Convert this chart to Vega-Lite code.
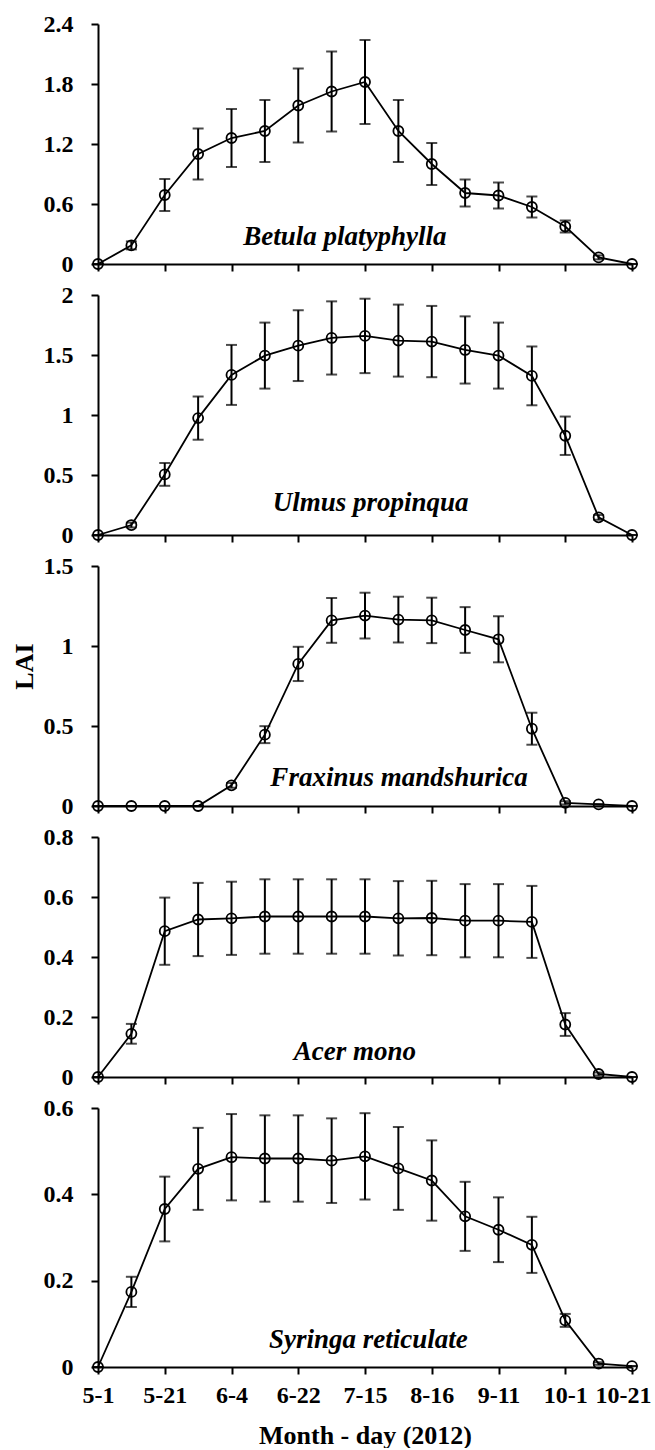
{
  "$schema": "https://vega.github.io/schema/vega-lite/v6.json",
  "background": "white",
  "padding": {"left": 11, "top": 12, "right": 0, "bottom": 0},
  "bounds": "flush",
  "spacing": 31,
  "config": {
    "view": {"stroke": null},
    "font": "Liberation Serif",
    "axis": {
      "grid": false,
      "domainColor": "black",
      "domainWidth": 2,
      "tickColor": "black",
      "tickWidth": 2,
      "tickSize": 7,
      "labelColor": "black",
      "labelFont": "Liberation Serif",
      "labelFontWeight": "bold",
      "labelFontSize": 24,
      "labelFlush": false,
      "labelOverlap": false,
      "titleColor": "black",
      "titleFont": "Liberation Serif",
      "titleFontWeight": "bold",
      "titleFontSize": 26
    }
  },
  "datasets": {
    "lai": [
      {"sp": "Betula platyphylla", "i": 0, "lai": 0, "err": 0},
      {"sp": "Betula platyphylla", "i": 1, "lai": 0.186, "err": 0.04},
      {"sp": "Betula platyphylla", "i": 2, "lai": 0.69, "err": 0.16},
      {"sp": "Betula platyphylla", "i": 3, "lai": 1.10, "err": 0.255},
      {"sp": "Betula platyphylla", "i": 4, "lai": 1.26, "err": 0.29},
      {"sp": "Betula platyphylla", "i": 5, "lai": 1.33, "err": 0.31},
      {"sp": "Betula platyphylla", "i": 6, "lai": 1.585, "err": 0.37},
      {"sp": "Betula platyphylla", "i": 7, "lai": 1.725, "err": 0.40},
      {"sp": "Betula platyphylla", "i": 8, "lai": 1.82, "err": 0.42},
      {"sp": "Betula platyphylla", "i": 9, "lai": 1.33, "err": 0.31},
      {"sp": "Betula platyphylla", "i": 10, "lai": 1.0, "err": 0.21},
      {"sp": "Betula platyphylla", "i": 11, "lai": 0.71, "err": 0.135},
      {"sp": "Betula platyphylla", "i": 12, "lai": 0.685, "err": 0.13},
      {"sp": "Betula platyphylla", "i": 13, "lai": 0.57, "err": 0.105},
      {"sp": "Betula platyphylla", "i": 14, "lai": 0.375, "err": 0.06},
      {"sp": "Betula platyphylla", "i": 15, "lai": 0.066, "err": 0.02},
      {"sp": "Betula platyphylla", "i": 16, "lai": 0, "err": 0},
      {"sp": "Ulmus propinqua", "i": 0, "lai": 0, "err": 0},
      {"sp": "Ulmus propinqua", "i": 1, "lai": 0.083, "err": 0.02},
      {"sp": "Ulmus propinqua", "i": 2, "lai": 0.505, "err": 0.095},
      {"sp": "Ulmus propinqua", "i": 3, "lai": 0.974, "err": 0.18},
      {"sp": "Ulmus propinqua", "i": 4, "lai": 1.334, "err": 0.25},
      {"sp": "Ulmus propinqua", "i": 5, "lai": 1.495, "err": 0.275},
      {"sp": "Ulmus propinqua", "i": 6, "lai": 1.578, "err": 0.295},
      {"sp": "Ulmus propinqua", "i": 7, "lai": 1.642, "err": 0.305},
      {"sp": "Ulmus propinqua", "i": 8, "lai": 1.659, "err": 0.31},
      {"sp": "Ulmus propinqua", "i": 9, "lai": 1.62, "err": 0.30},
      {"sp": "Ulmus propinqua", "i": 10, "lai": 1.612, "err": 0.297},
      {"sp": "Ulmus propinqua", "i": 11, "lai": 1.542, "err": 0.28},
      {"sp": "Ulmus propinqua", "i": 12, "lai": 1.495, "err": 0.275},
      {"sp": "Ulmus propinqua", "i": 13, "lai": 1.326, "err": 0.245},
      {"sp": "Ulmus propinqua", "i": 14, "lai": 0.827, "err": 0.16},
      {"sp": "Ulmus propinqua", "i": 15, "lai": 0.147, "err": 0.02},
      {"sp": "Ulmus propinqua", "i": 16, "lai": 0, "err": 0},
      {"sp": "Fraxinus mandshurica", "i": 0, "lai": 0, "err": 0},
      {"sp": "Fraxinus mandshurica", "i": 1, "lai": 0, "err": 0},
      {"sp": "Fraxinus mandshurica", "i": 2, "lai": 0, "err": 0},
      {"sp": "Fraxinus mandshurica", "i": 3, "lai": 0, "err": 0},
      {"sp": "Fraxinus mandshurica", "i": 4, "lai": 0.129, "err": 0.015},
      {"sp": "Fraxinus mandshurica", "i": 5, "lai": 0.446, "err": 0.053},
      {"sp": "Fraxinus mandshurica", "i": 6, "lai": 0.888, "err": 0.107},
      {"sp": "Fraxinus mandshurica", "i": 7, "lai": 1.16, "err": 0.14},
      {"sp": "Fraxinus mandshurica", "i": 8, "lai": 1.19, "err": 0.143},
      {"sp": "Fraxinus mandshurica", "i": 9, "lai": 1.165, "err": 0.143},
      {"sp": "Fraxinus mandshurica", "i": 10, "lai": 1.16, "err": 0.142},
      {"sp": "Fraxinus mandshurica", "i": 11, "lai": 1.10, "err": 0.143},
      {"sp": "Fraxinus mandshurica", "i": 12, "lai": 1.042, "err": 0.144},
      {"sp": "Fraxinus mandshurica", "i": 13, "lai": 0.483, "err": 0.10},
      {"sp": "Fraxinus mandshurica", "i": 14, "lai": 0.02, "err": 0.01},
      {"sp": "Fraxinus mandshurica", "i": 15, "lai": 0.01, "err": 0},
      {"sp": "Fraxinus mandshurica", "i": 16, "lai": 0, "err": 0},
      {"sp": "Acer mono", "i": 0, "lai": 0, "err": 0},
      {"sp": "Acer mono", "i": 1, "lai": 0.144, "err": 0.033},
      {"sp": "Acer mono", "i": 2, "lai": 0.486, "err": 0.112},
      {"sp": "Acer mono", "i": 3, "lai": 0.525, "err": 0.122},
      {"sp": "Acer mono", "i": 4, "lai": 0.529, "err": 0.122},
      {"sp": "Acer mono", "i": 5, "lai": 0.535, "err": 0.124},
      {"sp": "Acer mono", "i": 6, "lai": 0.535, "err": 0.124},
      {"sp": "Acer mono", "i": 7, "lai": 0.535, "err": 0.124},
      {"sp": "Acer mono", "i": 8, "lai": 0.535, "err": 0.124},
      {"sp": "Acer mono", "i": 9, "lai": 0.529, "err": 0.124},
      {"sp": "Acer mono", "i": 10, "lai": 0.53, "err": 0.124},
      {"sp": "Acer mono", "i": 11, "lai": 0.521, "err": 0.122},
      {"sp": "Acer mono", "i": 12, "lai": 0.521, "err": 0.122},
      {"sp": "Acer mono", "i": 13, "lai": 0.517, "err": 0.12},
      {"sp": "Acer mono", "i": 14, "lai": 0.175, "err": 0.038},
      {"sp": "Acer mono", "i": 15, "lai": 0.01, "err": 0.005},
      {"sp": "Acer mono", "i": 16, "lai": 0, "err": 0},
      {"sp": "Syringa reticulate", "i": 0, "lai": 0, "err": 0},
      {"sp": "Syringa reticulate", "i": 1, "lai": 0.174, "err": 0.035},
      {"sp": "Syringa reticulate", "i": 2, "lai": 0.366, "err": 0.075},
      {"sp": "Syringa reticulate", "i": 3, "lai": 0.459, "err": 0.095},
      {"sp": "Syringa reticulate", "i": 4, "lai": 0.486, "err": 0.10},
      {"sp": "Syringa reticulate", "i": 5, "lai": 0.483, "err": 0.10},
      {"sp": "Syringa reticulate", "i": 6, "lai": 0.483, "err": 0.10},
      {"sp": "Syringa reticulate", "i": 7, "lai": 0.478, "err": 0.098},
      {"sp": "Syringa reticulate", "i": 8, "lai": 0.488, "err": 0.10},
      {"sp": "Syringa reticulate", "i": 9, "lai": 0.46, "err": 0.096},
      {"sp": "Syringa reticulate", "i": 10, "lai": 0.432, "err": 0.093},
      {"sp": "Syringa reticulate", "i": 11, "lai": 0.349, "err": 0.08},
      {"sp": "Syringa reticulate", "i": 12, "lai": 0.318, "err": 0.075},
      {"sp": "Syringa reticulate", "i": 13, "lai": 0.283, "err": 0.065},
      {"sp": "Syringa reticulate", "i": 14, "lai": 0.108, "err": 0.015},
      {"sp": "Syringa reticulate", "i": 15, "lai": 0.008, "err": 0.003},
      {"sp": "Syringa reticulate", "i": 16, "lai": 0.002, "err": 0}
    ],
    "labels": [
      {"sp": "Betula platyphylla", "lx": 7.4, "ly": 0.19},
      {"sp": "Ulmus propinqua", "lx": 8.17, "ly": 0.2},
      {"sp": "Fraxinus mandshurica", "lx": 9.02, "ly": 0.128},
      {"sp": "Acer mono", "lx": 7.7, "ly": 0.056},
      {"sp": "Syringa reticulate", "lx": 8.1, "ly": 0.044}
    ]
  },
  "vconcat": [
    {
      "width": 534, "height": 240,
      "layer": [
        {"data": {"name": "lai"}, "transform": [{"filter": "datum.sp == 'Betula platyphylla'"}],
         "mark": {"type": "errorbar", "color": "black", "ticks": {"size": 11, "thickness": 2, "color": "black"}, "rule": {"strokeWidth": 2, "color": "black"}},
         "encoding": {
           "x": {"field": "i", "type": "quantitative", "scale": {"domain": [0, 16], "nice": false}, "axis": {"values": [0,2,4,6,8,10,12,14,16], "labels": false, "title": null}},
           "y": {"field": "lai", "type": "quantitative", "scale": {"domain": [0, 2.4], "nice": false}, "axis": {"values": [0, 0.6, 1.2, 1.8, 2.4], "format": "~g", "labelPadding": 18, "title": null}},
           "yError": {"field": "err"}}},
        {"data": {"name": "lai"}, "transform": [{"filter": "datum.sp == 'Betula platyphylla'"}],
         "mark": {"type": "line", "color": "black", "strokeWidth": 1.8},
         "encoding": {"x": {"field": "i", "type": "quantitative"}, "y": {"field": "lai", "type": "quantitative"}}},
        {"data": {"name": "lai"}, "transform": [{"filter": "datum.sp == 'Betula platyphylla'"}],
         "mark": {"type": "point", "shape": "circle", "filled": false, "color": "black", "size": 100, "strokeWidth": 1.8, "opacity": 1},
         "encoding": {"x": {"field": "i", "type": "quantitative"}, "y": {"field": "lai", "type": "quantitative"}}},
        {"data": {"name": "labels"}, "transform": [{"filter": "datum.sp == 'Betula platyphylla'"}],
         "mark": {"type": "text", "font": "Liberation Serif", "fontStyle": "italic", "fontWeight": "bold", "fontSize": 27, "align": "center", "baseline": "alphabetic", "color": "black"},
         "encoding": {"x": {"field": "lx", "type": "quantitative"}, "y": {"field": "ly", "type": "quantitative"}, "text": {"field": "sp"}}}
      ]
    },
    {
      "width": 534, "height": 240,
      "layer": [
        {"data": {"name": "lai"}, "transform": [{"filter": "datum.sp == 'Ulmus propinqua'"}],
         "mark": {"type": "errorbar", "color": "black", "ticks": {"size": 11, "thickness": 2, "color": "black"}, "rule": {"strokeWidth": 2, "color": "black"}},
         "encoding": {
           "x": {"field": "i", "type": "quantitative", "scale": {"domain": [0, 16], "nice": false}, "axis": {"values": [0,2,4,6,8,10,12,14,16], "labels": false, "title": null}},
           "y": {"field": "lai", "type": "quantitative", "scale": {"domain": [0, 2], "nice": false}, "axis": {"values": [0, 0.5, 1, 1.5, 2], "format": "~g", "labelPadding": 18, "title": null}},
           "yError": {"field": "err"}}},
        {"data": {"name": "lai"}, "transform": [{"filter": "datum.sp == 'Ulmus propinqua'"}],
         "mark": {"type": "line", "color": "black", "strokeWidth": 1.8},
         "encoding": {"x": {"field": "i", "type": "quantitative"}, "y": {"field": "lai", "type": "quantitative"}}},
        {"data": {"name": "lai"}, "transform": [{"filter": "datum.sp == 'Ulmus propinqua'"}],
         "mark": {"type": "point", "shape": "circle", "filled": false, "color": "black", "size": 100, "strokeWidth": 1.8, "opacity": 1},
         "encoding": {"x": {"field": "i", "type": "quantitative"}, "y": {"field": "lai", "type": "quantitative"}}},
        {"data": {"name": "labels"}, "transform": [{"filter": "datum.sp == 'Ulmus propinqua'"}],
         "mark": {"type": "text", "font": "Liberation Serif", "fontStyle": "italic", "fontWeight": "bold", "fontSize": 27, "align": "center", "baseline": "alphabetic", "color": "black"},
         "encoding": {"x": {"field": "lx", "type": "quantitative"}, "y": {"field": "ly", "type": "quantitative"}, "text": {"field": "sp"}}}
      ]
    },
    {
      "width": 534, "height": 240,
      "layer": [
        {"data": {"name": "lai"}, "transform": [{"filter": "datum.sp == 'Fraxinus mandshurica'"}],
         "mark": {"type": "errorbar", "color": "black", "ticks": {"size": 11, "thickness": 2, "color": "black"}, "rule": {"strokeWidth": 2, "color": "black"}},
         "encoding": {
           "x": {"field": "i", "type": "quantitative", "scale": {"domain": [0, 16], "nice": false}, "axis": {"values": [0,2,4,6,8,10,12,14,16], "labels": false, "title": null}},
           "y": {"field": "lai", "type": "quantitative", "scale": {"domain": [0, 1.5], "nice": false}, "axis": {"values": [0, 0.5, 1, 1.5], "format": "~g", "labelPadding": 18, "title": "LAI", "titleX": -61, "titleY": 100}},
           "yError": {"field": "err"}}},
        {"data": {"name": "lai"}, "transform": [{"filter": "datum.sp == 'Fraxinus mandshurica'"}],
         "mark": {"type": "line", "color": "black", "strokeWidth": 1.8},
         "encoding": {"x": {"field": "i", "type": "quantitative"}, "y": {"field": "lai", "type": "quantitative"}}},
        {"data": {"name": "lai"}, "transform": [{"filter": "datum.sp == 'Fraxinus mandshurica'"}],
         "mark": {"type": "point", "shape": "circle", "filled": false, "color": "black", "size": 100, "strokeWidth": 1.8, "opacity": 1},
         "encoding": {"x": {"field": "i", "type": "quantitative"}, "y": {"field": "lai", "type": "quantitative"}}},
        {"data": {"name": "labels"}, "transform": [{"filter": "datum.sp == 'Fraxinus mandshurica'"}],
         "mark": {"type": "text", "font": "Liberation Serif", "fontStyle": "italic", "fontWeight": "bold", "fontSize": 27, "align": "center", "baseline": "alphabetic", "color": "black"},
         "encoding": {"x": {"field": "lx", "type": "quantitative"}, "y": {"field": "ly", "type": "quantitative"}, "text": {"field": "sp"}}}
      ]
    },
    {
      "width": 534, "height": 240,
      "layer": [
        {"data": {"name": "lai"}, "transform": [{"filter": "datum.sp == 'Acer mono'"}],
         "mark": {"type": "errorbar", "color": "black", "ticks": {"size": 11, "thickness": 2, "color": "black"}, "rule": {"strokeWidth": 2, "color": "black"}},
         "encoding": {
           "x": {"field": "i", "type": "quantitative", "scale": {"domain": [0, 16], "nice": false}, "axis": {"values": [0,2,4,6,8,10,12,14,16], "labels": false, "title": null}},
           "y": {"field": "lai", "type": "quantitative", "scale": {"domain": [0, 0.8], "nice": false}, "axis": {"values": [0, 0.2, 0.4, 0.6, 0.8], "format": "~g", "labelPadding": 18, "title": null}},
           "yError": {"field": "err"}}},
        {"data": {"name": "lai"}, "transform": [{"filter": "datum.sp == 'Acer mono'"}],
         "mark": {"type": "line", "color": "black", "strokeWidth": 1.8},
         "encoding": {"x": {"field": "i", "type": "quantitative"}, "y": {"field": "lai", "type": "quantitative"}}},
        {"data": {"name": "lai"}, "transform": [{"filter": "datum.sp == 'Acer mono'"}],
         "mark": {"type": "point", "shape": "circle", "filled": false, "color": "black", "size": 100, "strokeWidth": 1.8, "opacity": 1},
         "encoding": {"x": {"field": "i", "type": "quantitative"}, "y": {"field": "lai", "type": "quantitative"}}},
        {"data": {"name": "labels"}, "transform": [{"filter": "datum.sp == 'Acer mono'"}],
         "mark": {"type": "text", "font": "Liberation Serif", "fontStyle": "italic", "fontWeight": "bold", "fontSize": 27, "align": "center", "baseline": "alphabetic", "color": "black"},
         "encoding": {"x": {"field": "lx", "type": "quantitative"}, "y": {"field": "ly", "type": "quantitative"}, "text": {"field": "sp"}}}
      ]
    },
    {
      "width": 534, "height": 259,
      "layer": [
        {"data": {"name": "lai"}, "transform": [{"filter": "datum.sp == 'Syringa reticulate'"}],
         "mark": {"type": "errorbar", "color": "black", "ticks": {"size": 11, "thickness": 2, "color": "black"}, "rule": {"strokeWidth": 2, "color": "black"}},
         "encoding": {
           "x": {"field": "i", "type": "quantitative", "scale": {"domain": [0, 16], "nice": false},
                 "axis": {"values": [0,2,4,6,8,10,12,14,16], "labelPadding": 9,
                          "labelExpr": "['5-1','','5-21','','6-4','','6-22','','7-15','','8-16','','9-11','','10-1','','10-21'][datum.value]",
                          "labelOffset": {"condition": {"test": "datum.value == 16", "value": -9}, "value": 0},
                          "title": "Month - day (2012)", "titleY": 55, "titleBaseline": "top"}},
           "y": {"field": "lai", "type": "quantitative", "scale": {"domain": [0, 0.6], "nice": false}, "axis": {"values": [0, 0.2, 0.4, 0.6], "format": "~g", "labelPadding": 18, "title": null}},
           "yError": {"field": "err"}}},
        {"data": {"name": "lai"}, "transform": [{"filter": "datum.sp == 'Syringa reticulate'"}],
         "mark": {"type": "line", "color": "black", "strokeWidth": 1.8},
         "encoding": {"x": {"field": "i", "type": "quantitative"}, "y": {"field": "lai", "type": "quantitative"}}},
        {"data": {"name": "lai"}, "transform": [{"filter": "datum.sp == 'Syringa reticulate'"}],
         "mark": {"type": "point", "shape": "circle", "filled": false, "color": "black", "size": 100, "strokeWidth": 1.8, "opacity": 1},
         "encoding": {"x": {"field": "i", "type": "quantitative"}, "y": {"field": "lai", "type": "quantitative"}}},
        {"data": {"name": "labels"}, "transform": [{"filter": "datum.sp == 'Syringa reticulate'"}],
         "mark": {"type": "text", "font": "Liberation Serif", "fontStyle": "italic", "fontWeight": "bold", "fontSize": 27, "align": "center", "baseline": "alphabetic", "color": "black"},
         "encoding": {"x": {"field": "lx", "type": "quantitative"}, "y": {"field": "ly", "type": "quantitative"}, "text": {"field": "sp"}}}
      ]
    }
  ]
}
